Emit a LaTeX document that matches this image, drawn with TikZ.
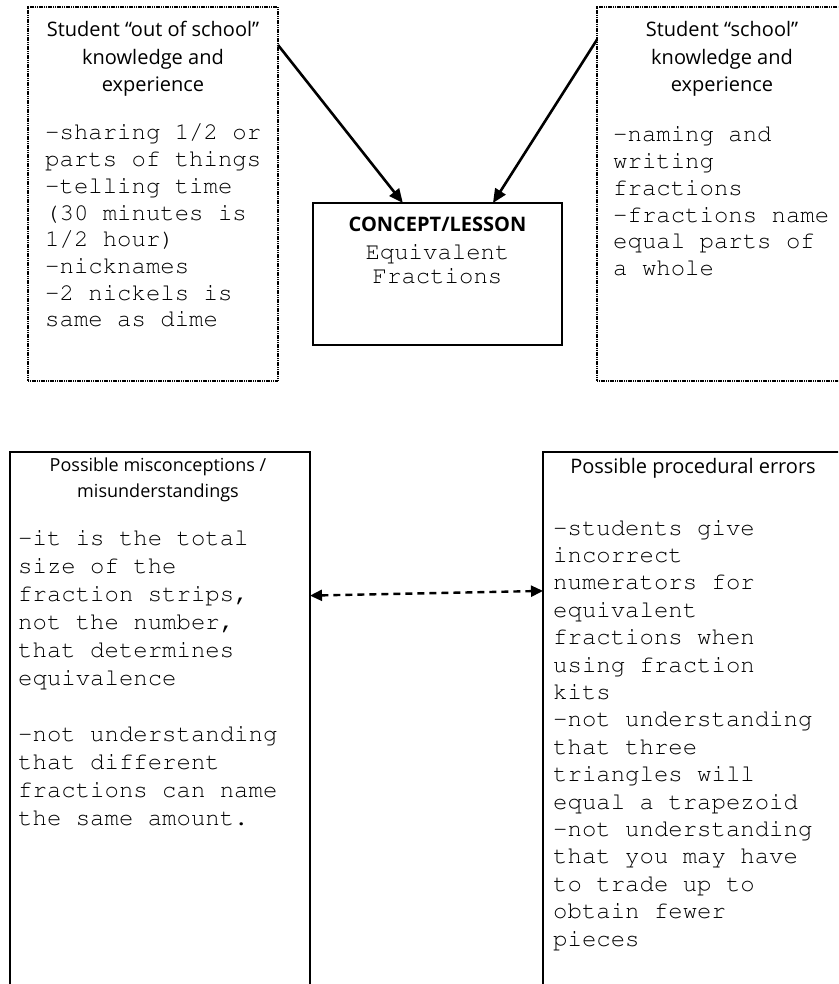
\documentclass[tikz,border=0pt]{standalone}
\usepackage{fontspec}
\newfontfamily\headfont{Open Sans}
\newcommand{\couriertext}{\fontencoding{T1}\fontfamily{pcr}\selectfont}
\usetikzlibrary{arrows.meta}
\newcommand{\leftlines}[2]{\vtop{\baselineskip=#1\lineskiplimit=-100pt\lineskip=0pt\halign{##\hfil\cr#2\crcr}}}
\newcommand{\centerlines}[2]{\vtop{\baselineskip=#1\lineskiplimit=-100pt\lineskip=0pt\halign{\hfil##\hfil\cr#2\crcr}}}
\tikzset{
  dotbox/.style={draw=black, line width=2pt, dash pattern=on 1.2pt off 0.6pt, inner sep=0pt, outer sep=0pt, rectangle},
  solidbox/.style={draw=black, line width=1.3pt, inner sep=0pt, outer sep=0pt, rectangle},
  headtext/.style={inner sep=0pt, anchor=base, font=\headfont\fontsize{20}{27.5}\selectfont},
  bodytext/.style={inner sep=0pt, anchor=base west, font=\couriertext\fontsize{24}{27}\selectfont},
  arr/.style={line width=2.6pt, -{Triangle[length=14pt,width=12pt]}},
  dasharr/.style={line width=2.4pt, dash pattern=on 7pt off 5pt, {Triangle[length=12pt,width=11pt]}-{Triangle[length=12pt,width=11pt]}}
}
\begin{document}
\begin{tikzpicture}[x=1pt,y=-1pt]
\useasboundingbox (0,0) rectangle (838,984);
\fill[white] (0,0) rectangle (838,984);
\clip (0,0) rectangle (838,984);

% boxes
\node[dotbox, minimum width=250pt, minimum height=374pt] (tl) at (153,194) {};
\node[dotbox, minimum width=250pt, minimum height=374pt] (tr) at (722,194) {};
\node[solidbox, minimum width=249pt, minimum height=142pt] (cb) at (437.5,274) {};
\node[solidbox, minimum width=300pt, minimum height=548pt] (bl) at (160,726) {};
\node[solidbox, minimum width=300pt, minimum height=548pt] (br) at (693,726) {};

% top-left texts
\node[headtext] (tlh) at (153,37) {\centerlines{27.5pt}{Student “out of school”\cr knowledge and\cr experience}};
\node[bodytext] (tlb) at (45,140) {\leftlines{26.7pt}{-sharing 1/2 or\cr parts of things\cr -telling time\cr (30 minutes is\cr 1/2 hour)\cr -nicknames\cr -2 nickels is\cr same as dime}};

% top-right texts
\node[headtext] (trh) at (722,37) {\centerlines{27.5pt}{Student “school”\cr knowledge and\cr experience}};
\node[bodytext] (trb) at (613,142) {\leftlines{26.7pt}{-naming and\cr writing\cr fractions\cr -fractions name\cr equal parts of\cr a whole}};

% center texts
\node[inner sep=0pt, anchor=base, font=\headfont\bfseries\fontsize{20}{24}\selectfont] (cbh) at (437.5,232) {CONCEPT/LESSON};
\node[inner sep=0pt, anchor=base, font=\couriertext\fontsize{24}{27}\selectfont] (cbb) at (437.5,259) {\centerlines{24.7pt}{Equivalent\cr Fractions}};

% bottom-left texts
\node[headtext, font=\headfont\fontsize{18}{26}\selectfont] (blh) at (158,471) {\centerlines{26pt}{Possible misconceptions /\cr misunderstandings}};
\node[bodytext] (blb) at (18,545) {\leftlines{28pt}{-it is the total\cr size of the\cr fraction strips,\cr not the number,\cr that determines\cr equivalence\cr \cr -not understanding\cr that different\cr fractions can name\cr the same amount.}};

% bottom-right texts
\node[headtext] (brh) at (693,473) {Possible procedural errors};
\node[bodytext] (brb) at (553,535) {\leftlines{27.4pt}{-students give\cr incorrect\cr numerators for\cr equivalent\cr fractions when\cr using fraction\cr kits\cr -not understanding\cr that three\cr triangles will\cr equal a trapezoid\cr -not understanding\cr that you may have\cr to trade up to\cr obtain fewer\cr pieces}};

% connectors
\draw[arr] (tl.50.56) -- (cb.116.57);
\draw[arr] (tr.129.44) -- (cb.52.49);
\draw[dasharr] (bl.41.56) -- (br.138.44);
\end{tikzpicture}
\end{document}
